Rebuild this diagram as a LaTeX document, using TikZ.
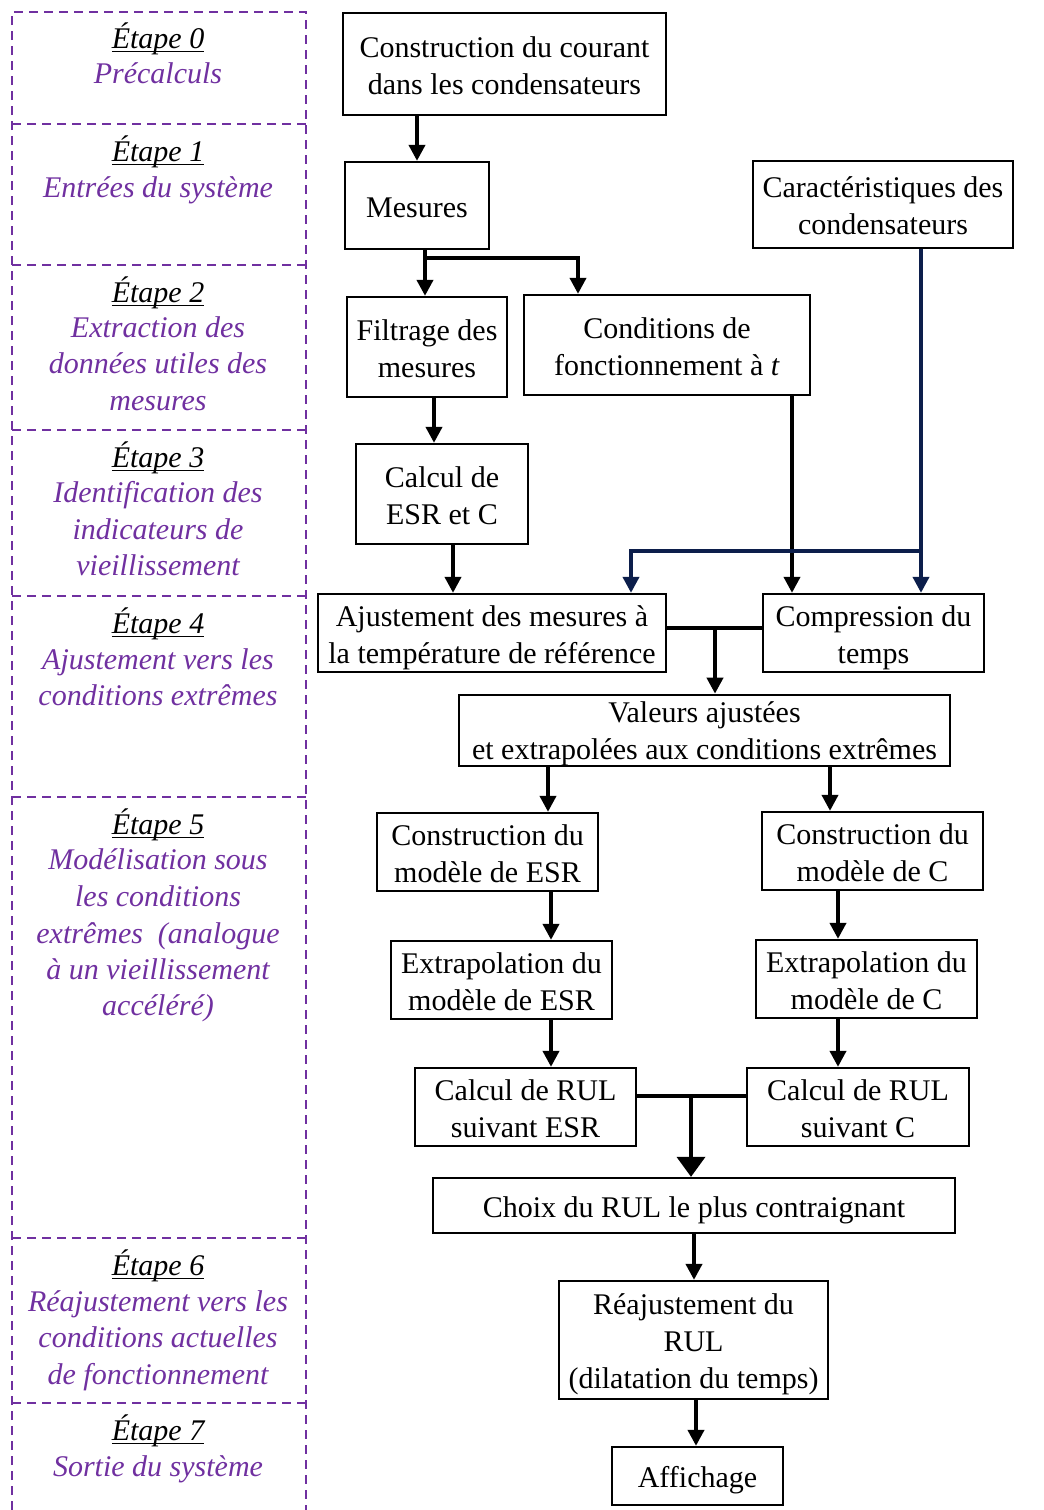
\documentclass[tikz,border=0pt]{standalone}
\usepackage{fontspec}
\setmainfont{Liberation Serif}
\usetikzlibrary{arrows.meta}
\definecolor{purp}{RGB}{112,48,160}
\definecolor{navyline}{RGB}{12,30,75}
\newcommand\ulE[1]{\setbox0\hbox{#1}\rlap{\rule[-4pt]{\wd0}{1.4pt}}\box0}
\newcommand\st{\rule[-7pt]{0pt}{37pt}}
\newcommand\sts{\rule[-6pt]{0pt}{34pt}}
\begin{document}
\begin{tikzpicture}[x=1pt,y=-1pt,
  box/.style={draw, line width=2.3pt, align=center, inner sep=0pt, font=\fontsize{30}{37}\selectfont},
  arr/.style={line width=3.8pt, -{Triangle[length=16pt,width=16pt]}},
  bigarr/.style={line width=3.8pt, -{Triangle[length=20pt,width=28pt]}},
  lnk/.style={line width=3.8pt},
  sep/.style={draw=purp, line width=2.5pt, dash pattern=on 9pt off 6pt},
  etape/.style={font=\fontsize{30}{36}\selectfont\itshape, anchor=base, inner sep=0pt},
  desc/.style={etape, text=purp}]
\useasboundingbox (0,0) rectangle (1044,1510);

% ---------- left panel ----------
\draw[sep] (12,1510) -- (12,12) -- (306,12) -- (306,1510);
\foreach \yy in {124,265,430,596,797,1238,1403} \draw[sep] (12,\yy) -- (306,\yy);

\node[etape] (e0) at (158,48) {\ulE{Étape 0}};
\node[desc] (d0a) at (158,83) {Précalculs};
\node[etape] (e1) at (158,161) {\ulE{Étape 1}};
\node[desc] (d1a) at (158,197) {Entrées du système};
\node[etape] (e2) at (158,302) {\ulE{Étape 2}};
\node[desc] (d2a) at (158,337) {Extraction des};
\node[desc] (d2b) at (158,373) {données utiles des};
\node[desc] (d2c) at (158,410) {mesures};
\node[etape] (e3) at (158,467) {\ulE{Étape 3}};
\node[desc] (d3a) at (158,502) {Identification des};
\node[desc] (d3b) at (158,539) {indicateurs de};
\node[desc] (d3c) at (158,575) {vieillissement};
\node[etape] (e4) at (158,633) {\ulE{Étape 4}};
\node[desc] (d4a) at (158,669) {Ajustement vers les};
\node[desc] (d4b) at (158,705) {conditions extrêmes};
\node[etape] (e5) at (158,834) {\ulE{Étape 5}};
\node[desc] (d5a) at (158,869) {Modélisation sous};
\node[desc] (d5b) at (158,906) {les conditions};
\node[desc] (d5c) at (158,943) {extrêmes\ \ (analogue};
\node[desc] (d5d) at (158,979) {à un vieillissement};
\node[desc] (d5e) at (158,1015) {accéléré)};
\node[etape] (e6) at (158,1275) {\ulE{Étape 6}};
\node[desc] (d6a) at (158,1311) {Réajustement vers les};
\node[desc] (d6b) at (158,1347) {conditions actuelles};
\node[desc] (d6c) at (158,1384) {de fonctionnement};
\node[etape] (e7) at (158,1440) {\ulE{Étape 7}};
\node[desc] (d7a) at (158,1476) {Sortie du système};

% ---------- boxes ----------
\node[box, minimum width=323pt, minimum height=102pt] (cc) at (504.5,64) {\st Construction du courant\\\st dans les condensateurs};
\node[box, minimum width=144pt, minimum height=87pt] (mes) at (417,205.5) {\st Mesures};
\node[box, minimum width=260pt, minimum height=87pt] (car) at (883,204.5) {\st Caractéristiques des\\\st condensateurs};
\node[box, minimum width=160pt, minimum height=100pt] (fil) at (427,347) {\st Filtrage des\\\st mesures};
\node[box, minimum width=286pt, minimum height=100pt] (cond) at (667,345) {\st Conditions de\\\st fonctionnement à \textit{t}};
\node[box, minimum width=172pt, minimum height=100pt] (calc) at (442,494) {\st Calcul de\\\st ESR et C};
\node[box, minimum width=348pt, minimum height=78pt] (aju) at (492,633) {\st Ajustement des mesures à\\\st la température de référence};
\node[box, minimum width=221pt, minimum height=78pt] (comp) at (873.5,633) {\st Compression du\\\st temps};
\node[box, minimum width=491pt, minimum height=71pt] (val) at (704.5,730.5) {\sts Valeurs ajustées\\\sts et extrapolées aux conditions extrêmes};
\node[box, minimum width=221pt, minimum height=78pt] (mesr) at (487.5,852) {\st Construction du\\\st modèle de ESR};
\node[box, minimum width=221pt, minimum height=78pt] (mc) at (872.5,851) {\st Construction du\\\st modèle de C};
\node[box, minimum width=221pt, minimum height=78pt] (eesr) at (501.5,980) {\st Extrapolation du\\\st modèle de ESR};
\node[box, minimum width=221pt, minimum height=78pt] (ec) at (866.5,979) {\st Extrapolation du\\\st modèle de C};
\node[box, minimum width=221pt, minimum height=78pt] (resr) at (525.5,1107) {\st Calcul de RUL\\\st suivant ESR};
\node[box, minimum width=222pt, minimum height=78pt] (rc) at (858,1107) {\st Calcul de RUL\\\st suivant C};
\node[box, minimum width=522pt, minimum height=55pt] (cho) at (694,1205.5) {\st Choix du RUL le plus contraignant};
\node[box, minimum width=269pt, minimum height=118pt] (rea) at (693.5,1340) {\st Réajustement du\\\st RUL\\\st (dilatation du temps)};
\node[box, minimum width=171pt, minimum height=58pt] (aff) at (697.5,1476) {\st Affichage};

% ---------- column / junction coordinates ----------
\coordinate (k425) at (425,0);
\coordinate (k434) at (434,0);
\coordinate (k453) at (453,0);
\coordinate (k792) at (792,0);
\coordinate (k921) at (921,0);
\coordinate (k631) at (631,0);
\coordinate (k548) at (548,0);
\coordinate (k830) at (830,0);
\coordinate (k551) at (551,0);
\coordinate (k838) at (838,0);
\coordinate (k694) at (694,0);
\coordinate (k696) at (696,0);
\coordinate (j1) at (425,258);
\coordinate (j2) at (921,551);
\coordinate (j3) at (715,628);
\coordinate (j4) at (691,1096);

% ---------- connectors ----------
\draw[arr] (cc.south -| mes.north) -- (mes.north);
\draw[arr] (mes.south -| k425) -- (fil.north -| k425);
\draw[arr] (j1) -| ([xshift=-89pt]cond.north);
\draw[arr] (fil.south -| k434) -- (calc.north -| k434);
\draw[arr] (calc.south -| k453) -- (aju.north -| k453);
\draw[arr] (cond.south -| k792) -- (comp.north -| k792);
\draw[arr, navyline] (car.south -| k921) -- (comp.north -| k921);
\draw[arr, navyline] (j2) -| (aju.north -| k631);
\draw[lnk] (aju.east |- j3) -- (comp.west |- j3);
\draw[arr] (j3) -- (val.north -| j3);
\draw[arr] (val.south -| k548) -- (mesr.north -| k548);
\draw[arr] (val.south -| k830) -- (mc.north -| k830);
\draw[arr] (mesr.south -| k551) -- (eesr.north -| k551);
\draw[arr] (mc.south -| k838) -- (ec.north -| k838);
\draw[arr] (eesr.south -| k551) -- (resr.north -| k551);
\draw[arr] (ec.south -| k838) -- (rc.north -| k838);
\draw[lnk] (resr.east |- j4) -- (rc.west |- j4);
\draw[bigarr] (j4) -- (cho.north -| j4);
\draw[arr] (cho.south -| k694) -- (rea.north -| k694);
\draw[arr] (rea.south -| k696) -- (aff.north -| k696);
\end{tikzpicture}
\end{document}
